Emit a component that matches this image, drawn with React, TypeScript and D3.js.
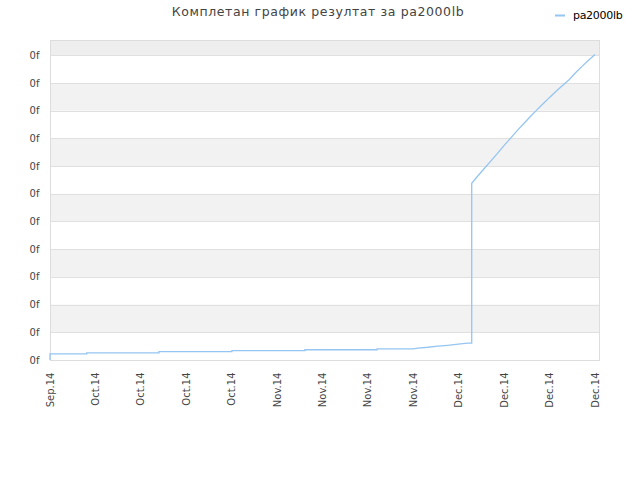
import React from "react";
import * as d3 from "d3";

const titleText = "Комплетан график резултат за pa2000lb";
const seriesName = "pa2000lb";

const tickDates = [
  "2014-09-29", "2014-10-06", "2014-10-13", "2014-10-20", "2014-10-27",
  "2014-11-03", "2014-11-10", "2014-11-17", "2014-11-24",
  "2014-12-01", "2014-12-08", "2014-12-15", "2014-12-22",
];

const yTicks = [0, 1, 2, 3, 4, 5, 6, 7, 8, 9, 10, 11];
const yTickLabel = "0f";

const pointDates = [
  "2014-09-29T00:00", "2014-09-29T00:00",
  "2014-10-04T16:00", "2014-10-04T16:00",
  "2014-10-15T19:00", "2014-10-15T19:00",
  "2014-10-27T01:00", "2014-10-27T01:00",
  "2014-11-07T07:00", "2014-11-07T07:00",
  "2014-11-18T10:00", "2014-11-18T10:00",
  "2014-11-23T23:00", "2014-11-24T17:00", "2014-11-26T06:00",
  "2014-11-27T19:00", "2014-11-29T07:00", "2014-11-30T22:00",
  "2014-12-02T10:00", "2014-12-03T00:00",
  "2014-12-03T00:00", "2014-12-04T00:00", "2014-12-05T00:00",
  "2014-12-06T00:00", "2014-12-07T00:00", "2014-12-08T00:00",
  "2014-12-09T00:00", "2014-12-10T00:00", "2014-12-11T00:00",
  "2014-12-12T00:00", "2014-12-13T00:00", "2014-12-14T00:00",
  "2014-12-15T00:00", "2014-12-16T00:00", "2014-12-17T00:00",
  "2014-12-18T00:00", "2014-12-19T00:00", "2014-12-20T00:00",
  "2014-12-21T00:00", "2014-12-22T00:00",
];
const pointValues = [
  0, 0.22,
  0.22, 0.26,
  0.26, 0.3,
  0.3, 0.335,
  0.335, 0.37,
  0.37, 0.4,
  0.4, 0.43, 0.46,
  0.5, 0.53, 0.57,
  0.61, 0.61,
  6.38, 6.66, 6.93,
  7.2, 7.47, 7.75,
  8.01, 8.28, 8.53,
  8.78, 9.02, 9.25,
  9.48, 9.7, 9.91,
  10.12, 10.37, 10.6,
  10.82, 11.03,
];

const parse = (s: string) => new Date(s + (s.length === 10 ? "T00:00" : ""));
const fmt = d3.timeFormat("%b.%y");

export default function App() {
  const W = 640, H = 480;
  const left = 50, right = 600, top = 40, bottom = 360;
  const x = d3.scaleTime()
    .domain([parse(tickDates[0]), parse(tickDates[tickDates.length - 1])])
    .range([50, 595]);
  const y = d3.scaleLinear().domain([0, 11]).range([360, 55.3]);

  const data = pointDates.map((d, i) => ({ d: parse(d), v: pointValues[i] }));
  const line = d3.line<{ d: Date; v: number }>()
    .x((p) => x(p.d))
    .y((p) => y(p.v));

  const font = "'DejaVu Sans', Verdana, sans-serif";

  return (
    <svg width={W} height={H} style={{ position: "absolute", left: 0, top: 0, background: "#fff" }}>
      <text x={318} y={16} textAnchor="middle" fontFamily={font} fontSize={12.5} fill="#444" letterSpacing={0.6}>
        {titleText}
      </text>
      <line x1={555} x2={565} y1={15.5} y2={15.5} stroke="#95c5f2" strokeWidth={2} />
      <text x={573} y={19} fontFamily={font} fontSize={11} fill="#000" letterSpacing={-0.3}>
        {seriesName}
      </text>

      {/* background bands */}
      <rect x={left} y={top} width={right - left} height={y(11) - top} fill="#eeeeee" />
      {yTicks.slice(0, -1).map((t) =>
        t % 2 === 1 ? (
          <rect key={"b" + t} x={left} y={y(t + 1)} width={right - left} height={y(t) - y(t + 1)} fill="#f2f2f2" />
        ) : null
      )}
      {yTicks.map((t) => (
        <line key={"g" + t} x1={left} x2={right} y1={Math.round(y(t)) + 0.5} y2={Math.round(y(t)) + 0.5} stroke="#e0e0e0" />
      ))}
      <rect x={left + 0.5} y={top + 0.5} width={right - left - 1} height={bottom - top} fill="none" stroke="#dddddd" />

      {yTicks.map((t) => (
        <text key={"yl" + t} x={39.5} y={y(t) + 3.5} textAnchor="end" fontFamily={font} fontSize={10} fill="#444">
          {yTickLabel}
        </text>
      ))}

      {tickDates.map((s) => {
        const px = x(parse(s));
        return (
          <text key={"xl" + s} transform={`translate(${px + 3.5},372.5) rotate(-90)`} textAnchor="end"
            fontFamily={font} fontSize={10} fill="#444">
            {fmt(parse(s))}
          </text>
        );
      })}

      <path d={line(data) || ""} fill="none" stroke="#95c5f2" strokeWidth={1.3} />
    </svg>
  );
}
